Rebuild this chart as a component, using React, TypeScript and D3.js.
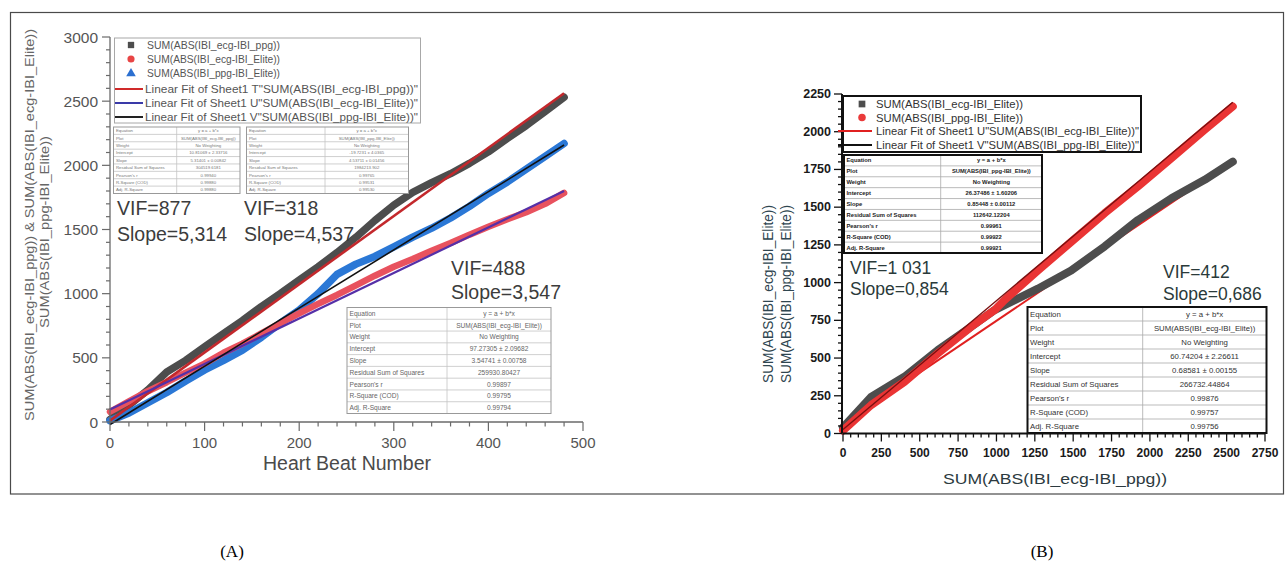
import React from "react";
import * as d3 from "d3";

// ---------- Panel A data (cumulative sums vs heart beat number) ----------
const beats = [0, 20, 40, 60, 80, 100, 120, 140, 160, 180, 200, 220, 240, 260, 280, 300, 320, 340, 360, 380, 400, 420, 440, 460, 480];
const sumEcgPpg = [20, 130, 250, 390, 480, 586, 690, 790, 900, 1000, 1106, 1210, 1320, 1440, 1570, 1690, 1790, 1865, 1935, 2015, 2105, 2210, 2310, 2420, 2530];
const sumEcgElite = [80, 160, 240, 310, 385, 455, 540, 610, 690, 770, 846, 920, 990, 1065, 1140, 1210, 1270, 1335, 1395, 1460, 1521, 1580, 1635, 1700, 1785];
const sumPpgElite = [10, 70, 150, 230, 320, 405, 480, 560, 660, 770, 872, 1000, 1150, 1230, 1290, 1365, 1440, 1510, 1590, 1680, 1781, 1870, 1970, 2070, 2170];

// linear fits T, U, V (panel A)
const fitInterceptA = [10.81, 97.27, -19.72];
const fitSlopeA = [5.314, 3.547, 4.537];

const xTicksA = [0, 100, 200, 300, 400, 500];
const yTicksA = [0, 500, 1000, 1500, 2000, 2500, 3000];

// ---------- Panel B data ----------
const bX = [0, 183, 400, 618, 835, 988, 1053, 1270, 1487, 1705, 1922, 2140, 2357, 2540];
const bEcgElite = [40, 243, 376, 553, 707, 818, 850, 960, 1080, 1240, 1415, 1559, 1681, 1802];
const bPpgElite = [20, 188, 342, 531, 707, 818, 885, 1080, 1270, 1460, 1637, 1825, 2013, 2167];

// linear fits U, V (panel B)
const fitInterceptB = [60.74, 26.37];
const fitSlopeB = [0.686, 0.854];

const xTicksB = [0, 250, 500, 750, 1000, 1250, 1500, 1750, 2000, 2250, 2500, 2750];
const yTicksB = [0, 250, 500, 750, 1000, 1250, 1500, 1750, 2000, 2250];

// ---------- Fit tables ----------
const tableLabels = ["Equation", "Plot", "Weight", "Intercept", "Slope", "Residual Sum of Squares", "Pearson's r", "R-Square (COD)", "Adj. R-Square"];
const tableA1 = ["y = a + b*x", "SUM(ABS(IBI_ecg-IBI_ppg))", "No Weighting", "10.81069 ± 2.33716", "5.31401 ± 0.00842", "304519.6181", "0.99940", "0.99880", "0.99880"];
const tableA2 = ["y = a + b*x", "SUM(ABS(IBI_ppg-IBI_Elite))", "No Weighting", "-19.7231 ± 4.0365", "4.53711 ± 0.01456", "1984213.902", "0.99765", "0.99531", "0.99530"];
const tableA3 = ["y = a + b*x", "SUM(ABS(IBI_ecg-IBI_Elite))", "No Weighting", "97.27305 ± 2.09682", "3.54741 ± 0.00758", "259930.80427", "0.99897", "0.99795", "0.99794"];
const tableB1 = ["y = a + b*x", "SUM(ABS(IBI_ppg-IBI_Elite))", "No Weighting", "26.37486 ± 1.60206", "0.85448 ± 0.00112", "112642.12204", "0.99961", "0.99922", "0.99921"];
const tableB2 = ["y = a + b*x", "SUM(ABS(IBI_ecg-IBI_Elite))", "No Weighting", "60.74204 ± 2.26611", "0.68581 ± 0.00155", "266732.44864", "0.99876", "0.99757", "0.99756"];

const legendA = [
  "SUM(ABS(IBI_ecg-IBI_ppg))",
  "SUM(ABS(IBI_ecg-IBI_Elite))",
  "SUM(ABS(IBI_ppg-IBI_Elite))",
  'Linear Fit of Sheet1 T"SUM(ABS(IBI_ecg-IBI_ppg))"',
  'Linear Fit of Sheet1 U"SUM(ABS(IBI_ecg-IBI_Elite))"',
  'Linear Fit of Sheet1 V"SUM(ABS(IBI_ppg-IBI_Elite))"',
];
const legendB = [
  "SUM(ABS(IBI_ecg-IBI_Elite))",
  "SUM(ABS(IBI_ppg-IBI_Elite))",
  'Linear Fit of Sheet1 U"SUM(ABS(IBI_ecg-IBI_Elite))"',
  'Linear Fit of Sheet1 V"SUM(ABS(IBI_ppg-IBI_Elite))"',
];

const FONT = "'Liberation Sans', Arial, Helvetica, sans-serif";

function StatTable(p: any) {
  const { x, y, w, h, split, values, fs, stroke, sw, grid, color, weight } = p;
  const rh = h / tableLabels.length;
  return (
    <g fontFamily={FONT}>
      <rect x={x} y={y} width={w} height={h} fill="#fff" />
      {tableLabels.map((lab, i) => (
        <g key={i}>
          {i > 0 && <line x1={x} x2={x + w} y1={y + i * rh} y2={y + i * rh} stroke={grid} strokeWidth={0.8} />}
          <text x={x + 2.5} y={y + (i + 0.5) * rh} fontSize={fs} fill={color} fontWeight={weight} dominantBaseline="central">{lab}</text>
          <text x={split + (x + w - split) / 2} y={y + (i + 0.5) * rh} fontSize={fs} fill={color} fontWeight={weight} textAnchor="middle" dominantBaseline="central">{values[i]}</text>
        </g>
      ))}
      <line x1={split} x2={split} y1={y} y2={y + h} stroke={grid} strokeWidth={0.8} />
      <rect x={x} y={y} width={w} height={h} fill="none" stroke={stroke} strokeWidth={sw} />
    </g>
  );
}

export default function App() {
  const xA = d3.scaleLinear().domain([0, 500]).range([110, 583]);
  const yA = d3.scaleLinear().domain([0, 3000]).range([422, 37]);
  const xB = d3.scaleLinear().domain([0, 2750]).range([843, 1265]);
  const yB = d3.scaleLinear().domain([0, 2250]).range([433.5, 94]);

  const lineA = (vals: number[]) => d3.line<number>().x((_, i) => xA(beats[i])).y((d) => yA(d))(vals) || "";
  const lineB = (vals: number[]) => d3.line<number>().x((_, i) => xB(bX[i])).y((d) => yB(d))(vals) || "";
  const fitA = (k: number) => d3.line<number>().x((d) => xA(d)).y((d) => yA(fitInterceptA[k] + fitSlopeA[k] * d))([0, beats[beats.length - 1]]) || "";
  const fitB = (k: number) => d3.line<number>().x((d) => xB(d)).y((d) => yB(fitInterceptB[k] + fitSlopeB[k] * d))([0, bX[bX.length - 1]]) || "";

  const minorXA = d3.range(0, 501, 20);
  const minorYA = d3.range(0, 3001, 100);
  const minorXB = d3.range(0, 2751, 50);
  const minorYB = d3.range(0, 2251, 50);

  const axA = "#6a6a6a";
  const axB = "#111";

  const sym = d3.symbol();

  return (
    <svg width={1285} height={567} style={{ position: "absolute", left: 0, top: 0, background: "#fff" }} fontFamily={FONT}>
      <rect x={0} y={0} width={1285} height={567} fill="#fff" />
      {/* outer frame */}
      <rect x={10.5} y={12.5} width={1273} height={481.5} fill="none" stroke="#4a4a4a" strokeWidth={1.2} />

      {/* ================= PANEL A ================= */}
      <path d={lineA(sumEcgPpg)} fill="none" stroke="#4d4d4d" strokeWidth={7.5} strokeLinejoin="round" strokeLinecap="round" />
      <path d={lineA(sumPpgElite)} fill="none" stroke="#2b78d6" strokeWidth={7.5} strokeLinejoin="round" strokeLinecap="round" />
      <path d={lineA(sumEcgElite)} fill="none" stroke="#e8525e" strokeWidth={6.5} strokeLinejoin="round" strokeLinecap="round" />
      <path d={fitA(0)} fill="none" stroke="#c3282c" strokeWidth={2.6} />
      <path d={fitA(1)} fill="none" stroke="#5530a8" strokeWidth={2.2} />
      <path d={fitA(2)} fill="none" stroke="#111" strokeWidth={1.6} />

      {/* axes A */}
      <line x1={xA(0)} x2={xA(500)} y1={yA(0)} y2={yA(0)} stroke={axA} strokeWidth={1.3} />
      <line x1={xA(0)} x2={xA(0)} y1={yA(0)} y2={yA(3000)} stroke={axA} strokeWidth={1.3} />
      {minorXA.map((v) => (
        <line key={"mxa" + v} x1={xA(v)} x2={xA(v)} y1={yA(0)} y2={yA(0) + (v % 100 === 0 ? 9 : 4.5)} stroke={axA} strokeWidth={1.2} />
      ))}
      {minorYA.map((v) => (
        <line key={"mya" + v} x1={xA(0)} x2={xA(0) - (v % 500 === 0 ? 8 : 4)} y1={yA(v)} y2={yA(v)} stroke={axA} strokeWidth={1.2} />
      ))}
      {xTicksA.map((v) => (
        <text key={"xa" + v} x={xA(v)} y={448} fontSize={15} fill="#555" textAnchor="middle">{v}</text>
      ))}
      {yTicksA.map((v) => (
        <text key={"ya" + v} x={98} y={yA(v)} fontSize={15.5} fill="#555" textAnchor="end" dominantBaseline="central">{v}</text>
      ))}
      <text x={347} y={470} fontSize={19.5} fill="#4a4a4a" textAnchor="middle">Heart Beat Number</text>
      <text transform="translate(34,225) rotate(-90)" fontSize={13} fill="#666" textAnchor="middle" textLength={392} lengthAdjust="spacingAndGlyphs">SUM(ABS(IBI_ecg-IBI_ppg)) &amp; SUM(ABS(IBI_ecg-IBI_Elite))</text>
      <text transform="translate(49,232) rotate(-90)" fontSize={13} fill="#666" textAnchor="middle" textLength={192} lengthAdjust="spacingAndGlyphs">SUM(ABS(IBI_ppg-IBI_Elite))</text>

      {/* legend A */}
      <rect x={114.5} y={38} width={306} height={85} fill="#fff" stroke="#a8a8a8" strokeWidth={1} />
      <path d={sym.type(d3.symbolSquare).size(40)() || ""} transform="translate(131,45)" fill="#4d4d4d" />
      <path d={sym.type(d3.symbolCircle).size(40)() || ""} transform="translate(131,59)" fill="#e84545" />
      <path d={sym.type(d3.symbolTriangle).size(40)() || ""} transform="translate(131,73.5)" fill="#2b6fd0" />
      <line x1={115} x2={143} y1={89} y2={89} stroke="#d02a2a" strokeWidth={2} />
      <line x1={115} x2={143} y1={103} y2={103} stroke="#3a3aa8" strokeWidth={2} />
      <line x1={115} x2={143} y1={117} y2={117} stroke="#222" strokeWidth={2} />
      {legendA.map((t, i) => (
        <text key={"la" + i} x={i < 3 ? 147 : 145} y={[45, 59, 73, 89, 103, 117][i]} fontSize={i < 3 ? 10.5 : 11.5} fill="#555" dominantBaseline="central" textLength={i < 3 ? 133 : 273} lengthAdjust="spacingAndGlyphs">{t}</text>
      ))}

      {/* tables A */}
      <StatTable x={113.5} y={127} w={126.5} h={66.5} split={176.7} values={tableA1} fs={4.3} stroke="#999" sw={1} grid="#c4c4c4" color="#777" weight="normal" />
      <StatTable x={246.5} y={127} w={162} h={66.5} split={325} values={tableA2} fs={4.3} stroke="#999" sw={1} grid="#c4c4c4" color="#777" weight="normal" />
      <StatTable x={347} y={307.5} w={204} h={106} split={447} values={tableA3} fs={6.6} stroke="#999" sw={1} grid="#c4c4c4" color="#666" weight="normal" />

      {/* annotations A */}
      <text x={117} y={215} fontSize={19.5} fill="#3c3c3c">VIF=877</text>
      <text x={117} y={241} fontSize={19.5} fill="#3c3c3c">Slope=5,314</text>
      <text x={244} y={215} fontSize={19.5} fill="#3c3c3c">VIF=318</text>
      <text x={244} y={241} fontSize={19.5} fill="#3c3c3c">Slope=4,537</text>
      <text x={451} y={275} fontSize={19.5} fill="#3c3c3c">VIF=488</text>
      <text x={451} y={299} fontSize={19.5} fill="#3c3c3c">Slope=3,547</text>

      {/* ================= PANEL B ================= */}
      <path d={fitB(0)} fill="none" stroke="#e02020" strokeWidth={2} />
      <path d={lineB(bEcgElite)} fill="none" stroke="#4d4d4d" strokeWidth={8} strokeLinejoin="round" strokeLinecap="round" />
      <path d={lineB(bPpgElite)} fill="none" stroke="#ea3434" strokeWidth={8} strokeLinejoin="round" strokeLinecap="round" />
      <path d={fitB(1)} fill="none" stroke="#7a1010" strokeWidth={1.4} />

      {/* axes B */}
      <line x1={xB(0)} x2={xB(2750)} y1={yB(0)} y2={yB(0)} stroke={axB} strokeWidth={2} />
      <line x1={xB(0) - 1} x2={xB(0) - 1} y1={yB(0)} y2={yB(2250)} stroke={axB} strokeWidth={2} />
      {minorXB.map((v) => (
        <line key={"mxb" + v} x1={xB(v)} x2={xB(v)} y1={yB(0)} y2={yB(0) + (v % 250 === 0 ? 8 : 4)} stroke={axB} strokeWidth={1.3} />
      ))}
      {minorYB.map((v) => (
        <line key={"myb" + v} x1={xB(0) - 1} x2={xB(0) - 1 - (v % 250 === 0 ? 8 : 4)} y1={yB(v)} y2={yB(v)} stroke={axB} strokeWidth={1.3} />
      ))}
      {xTicksB.map((v) => (
        <text key={"xb" + v} x={xB(v)} y={457} fontSize={12} fill="#1a1a1a" textAnchor="middle" fontWeight="bold">{v}</text>
      ))}
      {yTicksB.map((v) => (
        <text key={"yb" + v} x={831} y={yB(v)} fontSize={12.5} fill="#1a1a1a" textAnchor="end" fontWeight="bold" dominantBaseline="central">{v}</text>
      ))}
      <text x={1055} y={484} fontSize={15} fill="#2c3a40" textAnchor="middle" textLength={224} lengthAdjust="spacingAndGlyphs">SUM(ABS(IBI_ecg-IBI_ppg))</text>
      <text transform="translate(773,294) rotate(-90)" fontSize={14.5} fill="#2f4650" textAnchor="middle" textLength={178} lengthAdjust="spacingAndGlyphs">SUM(ABS(IBI_ecg-IBI_Elite))</text>
      <text transform="translate(791,294) rotate(-90)" fontSize={14.5} fill="#2f4650" textAnchor="middle" textLength={178} lengthAdjust="spacingAndGlyphs">SUM(ABS(IBI_ppg-IBI_Elite))</text>

      {/* legend B */}
      <rect x={843} y={96} width={298} height={56} fill="#fff" stroke="#111" strokeWidth={2} />
      <path d={sym.type(d3.symbolSquare).size(45)() || ""} transform="translate(862,104)" fill="#4d4d4d" />
      <path d={sym.type(d3.symbolCircle).size(45)() || ""} transform="translate(862,117.5)" fill="#ea3a3a" />
      <line x1={838} x2={872} y1={131} y2={131} stroke="#e02020" strokeWidth={2} />
      <line x1={838} x2={872} y1={145} y2={145} stroke="#111" strokeWidth={2} />
      {legendB.map((t, i) => (
        <text key={"lb" + i} x={876} y={[104, 117.5, 131, 145][i]} fontSize={11} fill="#333" dominantBaseline="central" textLength={i < 2 ? 147 : 263} lengthAdjust="spacingAndGlyphs">{t}</text>
      ))}

      {/* tables B */}
      <StatTable x={844} y={155} w={198} h={98} split={940.7} values={tableB1} fs={5.8} stroke="#111" sw={2} grid="#aaa" color="#222" weight="bold" />
      <StatTable x={1027.5} y={307} w={239} h={126} split={1142.7} values={tableB2} fs={7.8} stroke="#111" sw={2} grid="#aaa" color="#333" weight="normal" />

      {/* annotations B */}
      <text x={850} y={274} fontSize={17.5} fill="#2a3a3a">VIF=1 031</text>
      <text x={850} y={295} fontSize={17.5} fill="#2a3a3a">Slope=0,854</text>
      <text x={1163} y={278} fontSize={17.5} fill="#2a3a3a">VIF=412</text>
      <text x={1163} y={300} fontSize={17.5} fill="#2a3a3a">Slope=0,686</text>

      {/* captions */}
      <text x={232} y={557} fontSize={17} fill="#000" textAnchor="middle" fontFamily="'Liberation Serif', 'Times New Roman', serif">(A)</text>
      <text x={1042} y={557} fontSize={17} fill="#000" textAnchor="middle" fontFamily="'Liberation Serif', 'Times New Roman', serif">(B)</text>
    </svg>
  );
}
